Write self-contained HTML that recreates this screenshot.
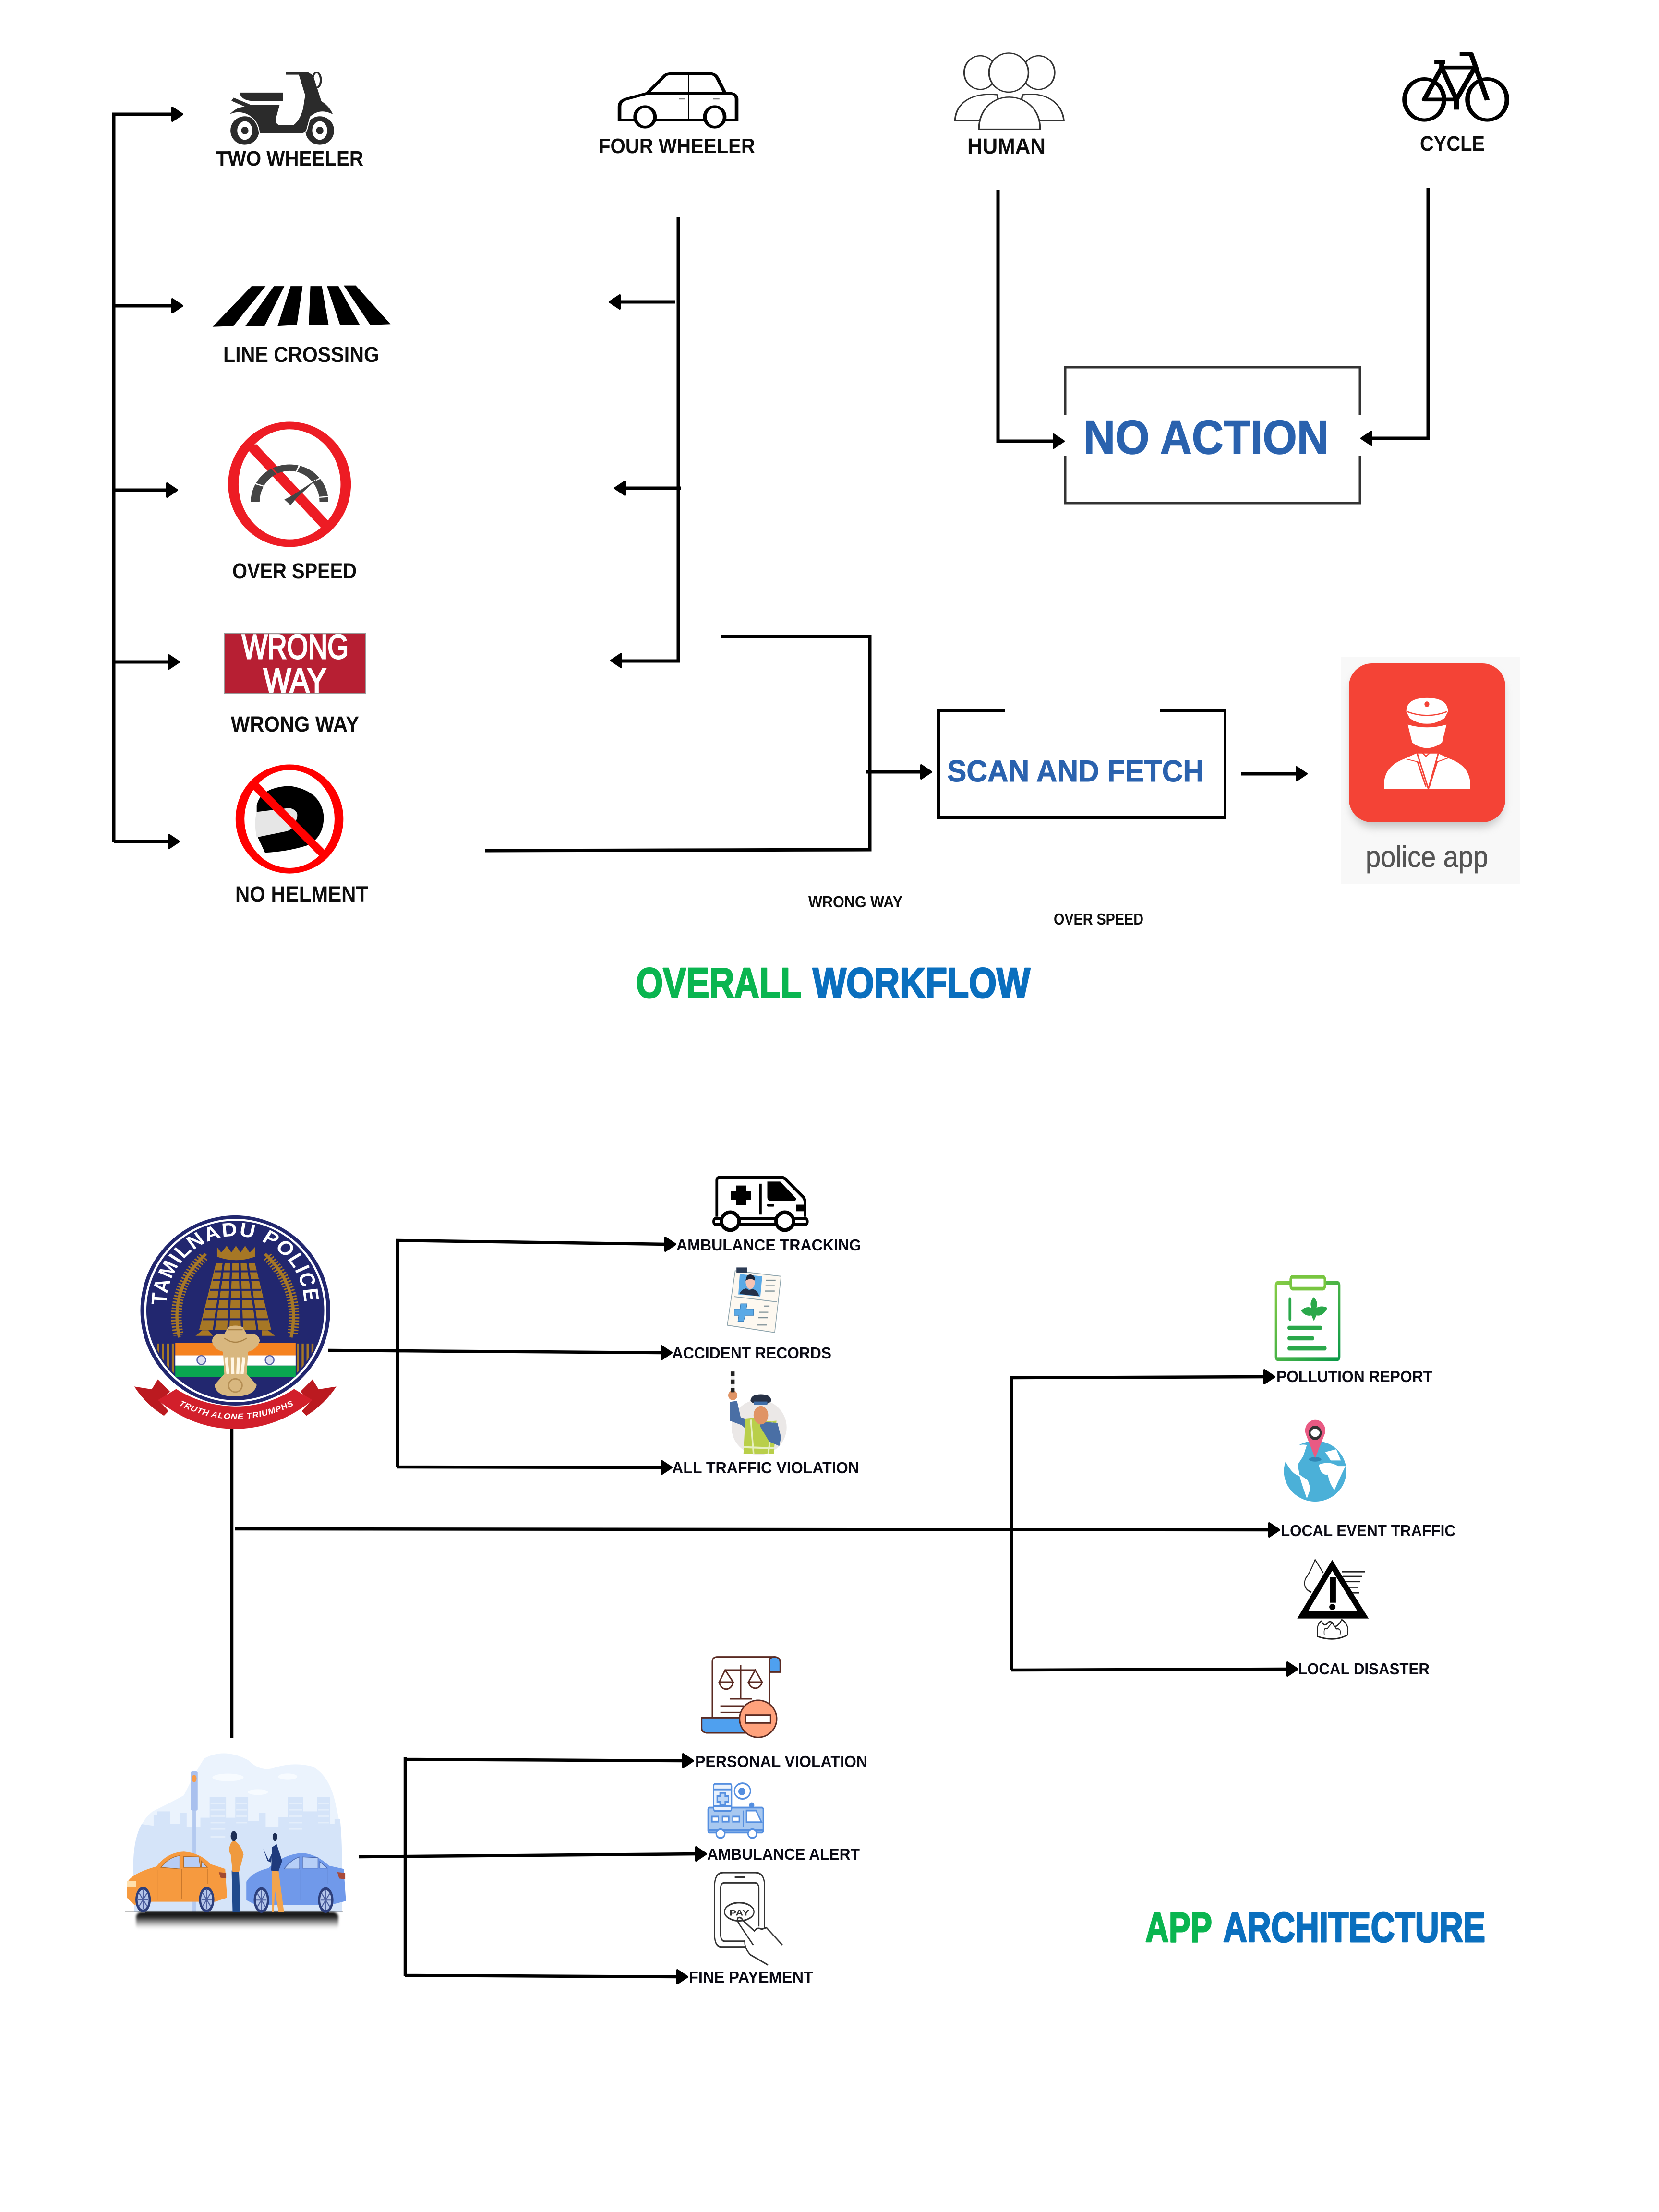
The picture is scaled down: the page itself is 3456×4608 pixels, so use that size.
<!DOCTYPE html>
<html><head><meta charset="utf-8"><title>Overall workflow and app architecture</title>
<style>html,body{margin:0;padding:0;background:#fff}svg{display:block}text{font-family:"Liberation Sans",sans-serif}</style></head>
<body>
<svg xmlns="http://www.w3.org/2000/svg" width="3456" height="4608" viewBox="0 0 3456 4608">
<defs>
<g id="r"><path d="M-21 -14 L0 0 L-21 14Z" fill="#000" stroke="#000" stroke-width="4" stroke-linejoin="round"/></g>
<g id="l"><path d="M21 -14 L0 0 L21 14Z" fill="#000" stroke="#000" stroke-width="4" stroke-linejoin="round"/></g>
<linearGradient id="gr" x1="0" y1="0" x2="1" y2="1"><stop offset="0" stop-color="#86cc45"/><stop offset="1" stop-color="#0b9a48"/></linearGradient>
<linearGradient id="sh" x1="0" y1="0" x2="0" y2="1"><stop offset="0" stop-color="#000"/><stop offset=".3" stop-color="#333"/><stop offset=".65" stop-color="#999" stop-opacity=".7"/><stop offset="1" stop-color="#fff" stop-opacity="0"/></linearGradient>
<filter id="b8" x="-20%" y="-100%" width="140%" height="300%"><feGaussianBlur stdDeviation="9"/></filter>
<filter id="b4" x="-10%" y="-50%" width="120%" height="200%"><feGaussianBlur stdDeviation="6"/></filter>
<clipPath id="emb"><ellipse cx="408" cy="540" rx="285" ry="320"/></clipPath>
<path id="arcT" d="M183 520 A225 250 0 0 1 633 520"/>
<path id="arcB" d="M222 883 Q405 985 597 885"/>
</defs>
<rect width="3456" height="4608" fill="#fff"/>

<!-- ============ connectors, workflow ============ -->
<g fill="none" stroke="#000" stroke-width="7">
<path d="M237 1754V238H362"/>
<path d="M240 637H362M233 1021H352M237 1379H356M237 1753H356"/>
<path d="M1413 453V1377H1290M1407 629H1288M1418 1017H1300"/>
<path d="M2079 395V919H2198M2975 391V913H2854"/>
<path d="M1503 1326H1812V1770L1011 1772M1804 1608H1922M2585 1612H2704"/>
</g>
<use href="#r" x="380" y="238"/><use href="#r" x="380" y="637"/><use href="#r" x="369" y="1021"/><use href="#r" x="373" y="1379"/><use href="#r" x="373" y="1753"/>
<use href="#l" x="1270" y="629"/><use href="#l" x="1281" y="1017"/><use href="#l" x="1273" y="1376"/>
<use href="#r" x="2216" y="919"/><use href="#l" x="2836" y="913"/>
<use href="#r" x="1940" y="1608"/><use href="#r" x="2722" y="1612"/>

<!-- No action box -->
<path d="M2219 865V765H2833V865M2219 950V1048H2833V950" fill="none" stroke="#333" stroke-width="5"/>
<text x="2257" y="945" font-size="99" font-weight="700" fill="#2a62ae" stroke="#2a62ae" stroke-width="1.5" textLength="511" lengthAdjust="spacingAndGlyphs">NO ACTION</text>
<!-- Scan box -->
<path d="M2093 1481H1955V1703H2552V1481H2416" fill="none" stroke="#000" stroke-width="6"/>
<text x="1973" y="1628" font-size="63" font-weight="700" fill="#2a62ae" stroke="#2a62ae" stroke-width="1" textLength="535" lengthAdjust="spacingAndGlyphs">SCAN AND FETCH</text>

<!-- labels -->
<g font-weight="700" fill="#0d0d0d">
<text x="450" y="345" font-size="44" textLength="307" lengthAdjust="spacingAndGlyphs">TWO WHEELER</text>
<text x="1247" y="319" font-size="44" textLength="326" lengthAdjust="spacingAndGlyphs">FOUR WHEELER</text>
<text x="465" y="754" font-size="45" textLength="325" lengthAdjust="spacingAndGlyphs">LINE CROSSING</text>
<text x="484" y="1205" font-size="45" textLength="259" lengthAdjust="spacingAndGlyphs">OVER SPEED</text>
<text x="2015" y="320" font-size="45" textLength="163" lengthAdjust="spacingAndGlyphs">HUMAN</text>
<text x="2958" y="314" font-size="44" textLength="135" lengthAdjust="spacingAndGlyphs">CYCLE</text>
<text x="481" y="1524" font-size="45" textLength="267" lengthAdjust="spacingAndGlyphs">WRONG WAY</text>
<text x="490" y="1878" font-size="45" textLength="277" lengthAdjust="spacingAndGlyphs">NO HELMENT</text>
<text x="1684" y="1890" font-size="33" textLength="196" lengthAdjust="spacingAndGlyphs">WRONG WAY</text>
<text x="2195" y="1926" font-size="33" textLength="187" lengthAdjust="spacingAndGlyphs">OVER SPEED</text>
</g>
<g font-weight="700" stroke-width="3" stroke-linejoin="round">
<text x="1325" y="2078" font-size="88" fill="#0ab550" stroke="#0ab550" textLength="345" lengthAdjust="spacingAndGlyphs">OVERALL</text>
<text x="1693" y="2078" font-size="88" fill="#0a6fbe" stroke="#0a6fbe" textLength="453" lengthAdjust="spacingAndGlyphs">WORKFLOW</text>
<text x="2386" y="4045" font-size="87" fill="#0ab550" stroke="#0ab550" textLength="139" lengthAdjust="spacingAndGlyphs">APP</text>
<text x="2548" y="4045" font-size="87" fill="#0a6fbe" stroke="#0a6fbe" textLength="546" lengthAdjust="spacingAndGlyphs">ARCHITECTURE</text>
</g>

<!-- ============ icons in Z1 coords ============ -->
<g transform="translate(150,60) scale(1.0842,.7908)">
<!-- scooter -->
<g fill="#2b2b2b">
<ellipse cx="332" cy="268" rx="21" ry="31" fill="#fff" stroke="#2b2b2b" stroke-width="13"/>
<ellipse cx="476" cy="268" rx="21" ry="31" fill="#fff" stroke="#2b2b2b" stroke-width="13"/>
<ellipse cx="332" cy="268" rx="7" ry="10"/><ellipse cx="476" cy="268" rx="7" ry="10"/>
<path d="M322 168H405V190H345Q325 188 322 168Z"/>
<path d="M310 180L345 200H400L392 240Q393 255 405 253H425Q437 240 443 210L447 175L435 122H410V112H452L464 122L480 190Q497 205 503 228Q478 208 458 232L452 262Q450 276 440 276H360Q358 240 335 225Q318 215 300 228Q315 205 330 205L305 190Z" stroke="#fff" stroke-width="2"/>
<ellipse cx="470" cy="135" rx="8" ry="20" fill="none" stroke="#2b2b2b" stroke-width="4"/>
</g>
<!-- crosswalk -->
<g fill="#000">
<polygon points="270,785 345,678 372,678 310,783"/>
<polygon points="333,783 388,678 408,678 370,783"/>
<polygon points="395,783 420,678 443,678 432,780"/>
<polygon points="455,780 458,678 480,678 493,780"/>
<polygon points="515,780 490,678 512,678 553,780"/>
<polygon points="573,780 522,676 545,676 612,778"/>
</g>
<!-- speed sign -->
<ellipse cx="418" cy="1200" rx="108" ry="155" fill="#fff" stroke="#ed1c24" stroke-width="20"/>
<path d="M345 1100L490 1312" stroke="#ed1c24" stroke-width="22"/>
<path d="M352 1246A66 90 0 0 1 484 1246" fill="none" stroke="#444" stroke-width="17" stroke-dasharray="44 3"/>
<path d="M472 1185L425 1228L408 1240L420 1255L432 1235Z" fill="#444"/>
<!-- car -->
<path d="M1080 240H1052V205Q1052 190 1065 185L1105 170L1140 122Q1145 118 1155 118H1225Q1235 118 1240 130L1255 170H1265Q1277 172 1277 185V240H1255M1215 240H1122M1105 170H1255" fill="none" stroke="#000" stroke-width="7"/>
<ellipse cx="1101" cy="232" rx="19" ry="27" fill="#fff" stroke="#000" stroke-width="7"/>
<ellipse cx="1235" cy="232" rx="19" ry="27" fill="#fff" stroke="#000" stroke-width="7"/>
<path d="M1185 122V238M1166 185H1178M1232 185H1244" stroke="#000" stroke-width="2" fill="none"/>
</g>

<!-- humans, cycle Z2 -->
<g transform="translate(1800,60) scale(.9566,.7015)">
<g fill="#fff" stroke="#333" stroke-width="3.5">
<ellipse cx="253" cy="130" rx="35" ry="50"/><ellipse cx="380" cy="130" rx="35" ry="50"/>
<ellipse cx="315" cy="130" rx="43" ry="58"/>
<path d="M198 272C200 215 240 188 290 196L300 272Z"/>
<path d="M435 272C432 225 400 185 345 196L335 272Z"/>
<path d="M250 298C250 240 280 203 316 203C355 203 385 245 383 298Z"/>
</g>
<g fill="none" stroke="#000" stroke-width="10" stroke-linejoin="round">
<ellipse cx="1220" cy="210" rx="43" ry="61"/><ellipse cx="1357" cy="210" rx="43" ry="61"/>
<path d="M1220 210L1258 115H1330L1290 210H1220ZM1258 115L1290 210M1242 99H1265M1258 99V115M1297 75H1322L1357 212M1290 210V240" stroke-width="11"/>
</g>
</g>

<!-- wrong way -->
<rect x="467" y="1320" width="294" height="125" fill="#b71f33" stroke="#999" stroke-width="2"/>
<text x="504" y="1372" font-size="71" font-weight="400" fill="#fff" stroke="#fff" stroke-width="3" textLength="222" lengthAdjust="spacingAndGlyphs">WRONG</text>
<text x="549" y="1442" font-size="71" font-weight="400" fill="#fff" stroke="#fff" stroke-width="3" textLength="131" lengthAdjust="spacingAndGlyphs">WAY</text>

<!-- helmet sign Z3 -->
<g transform="translate(200,1280) scale(1.0204,.6378)">
<ellipse cx="395" cy="668" rx="101" ry="169" fill="#fff" stroke="#f00" stroke-width="18"/>
<path d="M345 778L328 720V625Q335 565 395 560Q460 575 465 660Q465 730 430 755Q390 775 345 778Z" fill="#000"/>
<path d="M328 645L395 632Q415 640 410 665Q405 700 390 708L328 728Q322 680 328 645Z" fill="#e6e6e6"/>
<path d="M322 555L468 790" stroke="#f00" stroke-width="20"/>
</g>

<!-- police app Z4 -->
<rect x="2794" y="1369" width="373" height="473" fill="#f8f8f8"/>
<rect x="2815" y="1395" width="316" height="328" rx="46" fill="#999" filter="url(#b8)" opacity=".55"/>
<rect x="2810" y="1382" width="326" height="331" rx="48" fill="#f44336"/>
<g transform="translate(1700,1300) scale(1.0204,.574)">
<path d="M1160 598Q1155 520 1200 490L1225 470L1270 470L1295 490Q1340 520 1335 598Z" fill="#fff"/>
<path d="M1208 365Q1247 385 1287 365L1278 430Q1247 470 1217 430Z" fill="#fff"/>
<path d="M1205 318Q1205 268 1247 268Q1290 268 1290 318L1280 352Q1247 372 1215 352Z" fill="#fff"/>
<ellipse cx="1247" cy="291" rx="5" ry="10" fill="#f44336"/>
<path d="M1207 318Q1247 345 1288 318M1212 345Q1247 385 1282 345" fill="none" stroke="#f44336" stroke-width="4"/>
<path d="M1222 440L1250 598L1275 440M1222 440L1245 480L1272 440M1205 490L1228 500L1245 590M1292 485L1268 500L1252 590" fill="none" stroke="#f44336" stroke-width="3"/>
</g>
<text x="2845" y="1806" font-size="62" fill="#555" stroke="#555" stroke-width=".8" textLength="255" lengthAdjust="spacingAndGlyphs">police app</text>

<!-- ============ connectors, architecture ============ -->
<g fill="none" stroke="#000" stroke-width="6.5">
<path d="M828 3056V2584L1389 2592M684 2813L1381 2818M828 3056L1381 3057"/>
<path d="M483 2965V3621M489 3185L2647 3187"/>
<path d="M2107 3478V2870L2637 2868M2107 3479L2685 3477"/>
<path d="M844 4116V3660M844 3665L1426 3668M747 3868L1453 3862M844 4115L1414 4118"/>
</g>
<use href="#r" x="1407" y="2592"/><use href="#r" x="1399" y="2818"/><use href="#r" x="1399" y="3057"/>
<use href="#r" x="2655" y="2868"/><use href="#r" x="2665" y="3187"/><use href="#r" x="2703" y="3477"/>
<use href="#r" x="1444" y="3668"/><use href="#r" x="1471" y="3862"/><use href="#r" x="1432" y="4118"/>

<g font-weight="700" fill="#0a0a14" font-size="33">
<text x="1409" y="2605" textLength="385" lengthAdjust="spacingAndGlyphs">AMBULANCE TRACKING</text>
<text x="1400" y="2830" textLength="332" lengthAdjust="spacingAndGlyphs">ACCIDENT RECORDS</text>
<text x="1400" y="3069" textLength="390" lengthAdjust="spacingAndGlyphs">ALL TRAFFIC VIOLATION</text>
<text x="2659" y="2879" textLength="325" lengthAdjust="spacingAndGlyphs">POLLUTION REPORT</text>
<text x="2668" y="3200" textLength="364" lengthAdjust="spacingAndGlyphs">LOCAL EVENT TRAFFIC</text>
<text x="2704" y="3488" textLength="274" lengthAdjust="spacingAndGlyphs">LOCAL DISASTER</text>
<text x="1448" y="3681" textLength="359" lengthAdjust="spacingAndGlyphs">PERSONAL VIOLATION</text>
<text x="1473" y="3874" textLength="318" lengthAdjust="spacingAndGlyphs">AMBULANCE ALERT</text>
<text x="1435" y="4130" textLength="259" lengthAdjust="spacingAndGlyphs">FINE PAYEMENT</text>
</g>

<!-- emblem Z5 -->
<g transform="translate(230,2420) scale(.6378,.574)">
<path d="M78 816L135 826L155 790L195 835L160 868L190 905L175 922Q115 880 78 816Z" fill="#bb1a20"/>
<path d="M738 816L680 826L660 790L620 835L655 868L625 905L640 922Q700 880 738 816Z" fill="#bb1a20"/>
<ellipse cx="408" cy="540" rx="310" ry="345" fill="#22276f"/>
<ellipse cx="408" cy="540" rx="294" ry="329" fill="none" stroke="#fff" stroke-width="7"/>
<g clip-path="url(#emb)">
<path d="M140 660V790M156 660V790M172 660V790M188 660V790M204 660V790M612 660V790M628 660V790M644 660V790M660 660V790M676 660V790" stroke="#a67725" stroke-width="7"/>
</g>
<g fill="none" stroke="#a67725">
<path d="M312 335Q190 460 225 638" stroke-width="10"/>
<path d="M305 345Q192 465 222 630" stroke-width="34" stroke-dasharray="5 6"/>
<path d="M505 335Q625 460 590 638" stroke-width="10"/>
<path d="M512 345Q622 465 594 630" stroke-width="34" stroke-dasharray="5 6"/>
</g>
<polygon points="345,368 472,368 525,610 290,610" fill="#a67725"/>
<path d="M340 398H478M334 430H485M326 465H492M318 500H500M310 535H507M302 572H516M370 368L338 610M395 368L385 610M422 368L430 610M448 368L480 610" stroke="#22276f" stroke-width="7" fill="none"/>
<path d="M348 310L362 330L380 305L395 330L410 305L425 330L440 305L455 330L472 310V345Q410 370 348 345Z" fill="#a67725"/>
<path d="M278 632L300 612H320L335 632ZM495 612H515L537 632H495Z" fill="#a67725"/>
<rect x="212" y="658" width="393" height="45" fill="#f58220"/><rect x="212" y="703" width="393" height="37" fill="#fff"/><rect x="212" y="740" width="393" height="42" fill="#0aa650"/>
<ellipse cx="297" cy="720" rx="14" ry="16" fill="#dfe0f0" stroke="#5560a8" stroke-width="4"/>
<ellipse cx="520" cy="720" rx="14" ry="16" fill="#dfe0f0" stroke="#5560a8" stroke-width="4"/>
<path d="M385 600Q408 590 432 600L445 625Q485 620 488 650Q480 680 450 690L445 770L478 810Q470 852 405 852Q345 852 340 810L372 770L368 690Q335 680 332 650Q335 620 372 625Z" fill="#d8b77f"/>
<path d="M378 710L384 770M398 710L400 770M418 710L416 770M436 710L430 770" stroke="#fff6e4" stroke-width="10"/>
<path d="M372 640Q408 670 445 640M385 610H432" stroke="#a98347" stroke-width="4" fill="none"/>
<ellipse cx="408" cy="812" rx="22" ry="24" fill="none" stroke="#b58f55" stroke-width="5"/>
<path d="M215 825L155 865Q270 970 405 970Q545 970 660 865L600 825Q510 890 405 888Q300 885 215 825Z" fill="#d21f2b"/>
<text font-size="70" font-weight="700" fill="#fff"><textPath href="#arcT" textLength="735" lengthAdjust="spacing">TAMILNADU POLICE</textPath></text>
<text font-size="29" font-style="italic" font-weight="700" fill="#fff"><textPath href="#arcB" textLength="395">TRUTH ALONE TRIUMPHS</textPath></text>
</g>

<!-- ambulance, card, officer Z6 -->
<g transform="translate(1300,2420) scale(.3827,.4592)">
<path d="M505 250V85Q505 72 520 72H860Q870 72 880 80L975 160Q985 170 985 185V250" fill="#fff" stroke="#000" stroke-width="15"/>
<rect x="488" y="258" width="510" height="27" rx="12" fill="#fff" stroke="#000" stroke-width="14"/>
<ellipse cx="578" cy="270" rx="48" ry="40" fill="#fff" stroke="#000" stroke-width="18"/>
<ellipse cx="875" cy="270" rx="48" ry="40" fill="#fff" stroke="#000" stroke-width="18"/>
<path d="M610 108H665V135H692V172H665V198H610V172H582V135H610Z" fill="#000"/>
<path d="M742 100V240" stroke="#000" stroke-width="15"/>
<path d="M780 90H850L935 165Q940 177 925 177H795Q780 177 780 160Z" fill="#000"/>
<rect x="778" y="192" width="40" height="12" rx="6" fill="#000"/><rect x="938" y="195" width="47" height="30" fill="#000"/>
<polygon points="605,495 855,520 820,775 562,742" fill="#fdf8f0" stroke="#8ea4ad" stroke-width="4"/>
<path d="M600 612L832 636" stroke="#8ea4ad" stroke-width="4"/>
<polygon points="630,510 752,520 742,612 622,602" fill="#5aa9e6"/>
<path d="M628 600Q640 578 665 575L680 582L700 578Q730 585 735 610Z" fill="#22304a"/>
<ellipse cx="687" cy="545" rx="25" ry="33" fill="#f5c3b4"/>
<path d="M662 540Q665 510 690 512Q715 515 712 540Q690 525 662 540Z" fill="#1c2538"/>
<rect x="612" y="480" width="58" height="25" fill="#2c3b54"/>
<path d="M772 538H825M770 563H820M768 587H820M762 655H792M735 683H785M730 708H782M725 741H778" stroke="#7d8f96" stroke-width="5"/>
<path d="M635 645H670L665 668H705V697H660L650 725H620L625 697H600V668H632Z" fill="#5aa9e6" stroke="#3a7bb5" stroke-width="3"/>
<ellipse cx="735" cy="1205" rx="150" ry="125" fill="#ebe8e7"/>
<path d="M575 1090L615 1085L635 1160L700 1175L700 1240L640 1195L575 1175Z" fill="#4a6fa5"/>
<path d="M660 1165L725 1160L750 1180L830 1175L815 1325H650Z" fill="#b9cf4a"/>
<path d="M690 1170L705 1325M808 1180L785 1325M650 1295L815 1300" stroke="#e6efc0" stroke-width="9"/>
<path d="M745 1180L835 1185L855 1250L845 1290L790 1270L740 1200Z" fill="#4a6fa5"/>
<ellipse cx="745" cy="1150" rx="40" ry="42" fill="#e09465"/>
<path d="M688 1085Q690 1055 745 1055Q800 1055 802 1085Q790 1100 745 1102Q700 1100 688 1085Z" fill="#263045"/>
<rect x="708" y="1088" width="72" height="14" fill="#3f6ea8"/>
<ellipse cx="592" cy="1060" rx="25" ry="22" fill="#e09465"/>
<rect x="580" y="950" width="22" height="90" fill="#eee"/>
<path d="M580 952H602V972H580ZM580 988H602V1008H580ZM580 1026H602V1046H580Z" fill="#222"/>
</g>

<!-- clipboard, globe, warning Z7 -->
<g transform="translate(2600,2620) scale(.3827,.5867)">
<rect x="152" y="90" width="344" height="270" rx="8" fill="#fff" stroke="url(#gr)" stroke-width="13"/>
<rect x="232" y="68" width="186" height="42" rx="10" fill="#fff" stroke="#78c640" stroke-width="13"/>
<g stroke-linecap="round" stroke-width="15" fill="none">
<path d="M228 148V218M222 249H395M222 286H352M222 322H420" stroke="#2aa84a"/>
</g>
<path d="M358 140Q385 160 372 178Q400 168 432 178Q410 210 372 205L358 225L345 205Q310 210 288 188Q315 170 345 178Q332 158 358 140Z" fill="#2aa84a"/>
<ellipse cx="365" cy="758" rx="170" ry="108" fill="#4bb0d8"/>
<path d="M205 715Q250 655 320 665L300 705L270 735L280 770L325 790L340 820L320 855Q290 800 280 775Q240 770 205 725ZM385 735Q440 720 490 740L530 740Q500 780 470 825Q440 800 435 770Q395 775 385 735ZM420 690L480 680L505 720L450 720Z" fill="#fff"/>
<ellipse cx="365" cy="716" rx="34" ry="8" fill="#2f87b5"/>
<path d="M365 712L313 625A55 38 0 1 1 418 625Z" fill="#e95a83"/>
<ellipse cx="365" cy="622" rx="30" ry="20" fill="#fff" stroke="#333" stroke-width="11"/>
<path d="M365 1072Q340 1115 312 1140Q295 1175 345 1188M365 1072L410 1120M510 1115H635M515 1132H620M530 1150H610M550 1170H600M560 1190H605" fill="none" stroke="#222" stroke-width="5"/>
<path d="M378 1345Q370 1300 400 1290Q410 1310 430 1300Q450 1280 470 1310Q490 1310 510 1285Q555 1305 540 1340Q470 1365 378 1345Z" fill="none" stroke="#222" stroke-width="5"/>
<path d="M415 1340Q410 1310 430 1318L458 1295L480 1318Q510 1315 500 1340" fill="none" stroke="#222" stroke-width="4"/>
<polygon points="297,1268 458,1092 626,1268" fill="#fff" stroke="#000" stroke-width="26" stroke-linejoin="miter"/>
<rect x="445" y="1135" width="33" height="90" fill="#000"/><ellipse cx="459" cy="1240" rx="17" ry="11" fill="#000"/>
</g>

<!-- doc Z10 -->
<g transform="translate(1440,3430) scale(.3333)" stroke="#5a2a22" stroke-width="9" fill="none">
<path d="M132 445V95Q132 65 165 65H525" fill="#fff"/>
<path d="M488 160V90Q490 65 525 65Q556 70 556 100V160Z" fill="#4fa0ef"/>
<path d="M488 100V360"/>
<path d="M309 115V325M240 327H378M212 147H400M212 147L175 222H262ZM400 147L358 222H443Z"/>
<path d="M175 222A44 52 0 0 0 262 222M358 222A44 52 0 0 0 443 222M182 372H330M182 412H320"/>
<path d="M65 445H340V540H95Q65 535 65 510Z" fill="#4fa0ef"/>
<circle cx="418" cy="452" r="116" fill="#ffa27c"/>
<rect x="340" y="428" width="156" height="50" fill="#fff"/>
</g>

<!-- alert ambulance + pay Z9 -->
<g transform="translate(1400,3480) scale(.3333,.4719)">
<g stroke="#558fe0" stroke-width="8" fill="#bcd6f6">
<rect x="225" y="605" width="345" height="110" rx="8" fill="#a8c8f0"/>
<path d="M465 618H525L560 670H465Z" fill="#fff"/>
<rect x="260" y="500" width="112" height="120" rx="10" fill="#eaf2fd"/>
<path d="M262 525H370M262 598H370"/>
<path d="M300 540H332V555H352V580H332V595H300V580H282V555H300Z" fill="#bcd6f6"/>
<ellipse cx="440" cy="532" rx="50" ry="34" fill="#fff"/>
<ellipse cx="436" cy="534" rx="18" ry="13" fill="#558fe0"/>
<rect x="250" y="645" width="40" height="22" fill="#fff"/><rect x="315" y="645" width="40" height="22" fill="#fff"/><rect x="380" y="645" width="40" height="22" fill="#fff"/>
<path d="M445 618V690M225 705H570"/>
<ellipse cx="303" cy="720" rx="27" ry="19" fill="#fff"/><ellipse cx="502" cy="720" rx="27" ry="19" fill="#fff"/>
<ellipse cx="498" cy="595" rx="12" ry="9" fill="#558fe0"/>
</g>
<g fill="none" stroke="#333" stroke-width="7">
<path d="M455 1220H310Q268 1220 266 1170V945Q270 892 320 892H520Q575 892 578 945V1135"/>
<path d="M455 1195H330Q305 1195 303 1165V960Q305 937 330 937H515Q540 937 543 960V1130"/>
<path d="M392 912H455"/>
<ellipse cx="420" cy="1065" rx="92" ry="40"/>
<path d="M508 1212L425 1125Q400 1100 412 1092Q430 1085 445 1105L515 1150Q530 1132 560 1142L590 1135L690 1212M455 1190Q450 1225 490 1255L600 1300"/>
</g>
<text x="358" y="1082" font-size="36" font-weight="700" fill="#333" textLength="125" lengthAdjust="spacingAndGlyphs">PAY</text>
</g>

<!-- accident scene Z8 -->
<g transform="translate(230,3600) scale(.3827,.3333)">
<path d="M125 880Q120 620 230 520Q320 470 400 420Q460 280 510 190Q620 120 750 200Q820 280 900 245Q1000 210 1100 240Q1200 300 1230 500Q1265 650 1260 900V1150H130Z" fill="#ebf3fd"/>
<path d="M125 880Q122 700 170 600L235 610V540H255V520H325V600H380V530H415V620H490V560H540V430H630V560H680V430H750V580H810V530H845V615H915V555H965V430H1050V520H1125V430H1195V600H1220V570H1250Q1262 700 1260 900V1150H130Z" fill="#d5e4f9"/>
<g stroke="#e4eefb" stroke-width="10" fill="none">
<path d="M545 470H625M545 510H625M545 550H625M545 590H625M545 630H625M545 680H625M685 470H745M685 510H745M685 550H745M685 590H745M970 470H1045M970 510H1045M970 550H1045M970 590H1045M970 630H1045M1130 470H1190M1130 510H1190M1130 550H1190M1130 590H1190"/>
</g>
<g fill="#f7fbff"><ellipse cx="640" cy="308" rx="85" ry="24"/><ellipse cx="965" cy="303" rx="52" ry="20"/><ellipse cx="803" cy="400" rx="55" ry="18"/></g>
<path d="M447 510H465V1150H447Z" fill="#b3c9ef"/>
<rect x="438" y="270" width="37" height="245" rx="8" fill="#a9c0ee"/><ellipse cx="456" cy="315" rx="13" ry="24" fill="#f69c4b"/>
<rect x="140" y="1150" width="1100" height="115" rx="30" fill="url(#sh)" filter="url(#b4)"/>
<path d="M80 1150H1265" stroke="#555" stroke-width="4"/>
<path d="M190 1152H1190" stroke="#222" stroke-width="8"/>
<path d="M90 1060V970Q110 910 250 865Q310 775 400 772Q490 780 545 850L625 880L635 1060L570 1085H225L130 1105Z" fill="#f69a3f"/>
<path d="M275 870Q320 805 378 797V880ZM398 802L482 805L490 870H398ZM495 830L528 870H495Z" fill="#b7cdf5" stroke="#b06c2a" stroke-width="4"/>
<path d="M255 885V1075M388 880V1070M530 880V975" stroke="#c9782c" stroke-width="3" fill="none"/>
<ellipse cx="178" cy="1072" rx="42" ry="80" fill="#2d3f7c"/><ellipse cx="178" cy="1072" rx="30" ry="62" fill="#b5c6ea"/>
<path d="M178 1012V1132M150 1072H206M156 1030L200 1114M200 1030L156 1114" stroke="#4d5f9e" stroke-width="6"/>
<ellipse cx="524" cy="1072" rx="42" ry="80" fill="#2d3f7c"/><ellipse cx="524" cy="1072" rx="30" ry="62" fill="#b5c6ea"/>
<path d="M524 1012V1132M496 1072H552M502 1030L546 1114M546 1030L502 1114" stroke="#4d5f9e" stroke-width="6"/>
<rect x="90" y="955" width="50" height="35" fill="#ffe0ae"/>
<path d="M590 900L630 905V940L600 935Z" fill="#a14a32"/>
<path d="M740 1075V960Q770 900 860 875Q940 790 1040 780Q1120 785 1190 860L1270 880L1282 1080L1200 1105H790Z" fill="#7099ea"/>
<path d="M945 880Q985 820 1030 805V880ZM1045 805L1130 810V875H1045ZM1140 835L1180 875H1140Z" fill="#b7cff7" stroke="#4a68b0" stroke-width="4"/>
<path d="M1036 885V1075M1180 880V975" stroke="#4a68b0" stroke-width="3" fill="none"/>
<ellipse cx="822" cy="1075" rx="42" ry="80" fill="#2d3f7c"/><ellipse cx="822" cy="1075" rx="30" ry="62" fill="#b5c6ea"/>
<path d="M822 1015V1135M794 1075H850M800 1033L844 1117M844 1033L800 1117" stroke="#4d5f9e" stroke-width="6"/>
<ellipse cx="1172" cy="1075" rx="42" ry="80" fill="#2d3f7c"/><ellipse cx="1172" cy="1075" rx="30" ry="62" fill="#b5c6ea"/>
<path d="M1172 1015V1135M1144 1075H1200M1150 1033L1194 1117M1194 1033L1150 1117" stroke="#4d5f9e" stroke-width="6"/>
<path d="M1235 900L1278 905V945L1245 940Z" fill="#a84a3a"/>
<path d="M660 890H700L708 1150H665Z" fill="#1f4a8c"/>
<path d="M645 770Q650 700 680 705Q715 740 725 790L700 900H665L655 790Z" fill="#ef9a3f"/>
<ellipse cx="672" cy="675" rx="17" ry="32" fill="#1d2e55"/>
<path d="M880 890H915L945 1150H915L895 1010L890 1150H880Z" fill="#f2a44d"/>
<path d="M875 890L880 745L905 725L935 830L915 895ZM832 755L862 825L880 780L875 840L855 830Z" fill="#1f3a7c"/>
<ellipse cx="896" cy="680" rx="13" ry="26" fill="#1d2e55"/>
</g>
</svg>
</body></html>
